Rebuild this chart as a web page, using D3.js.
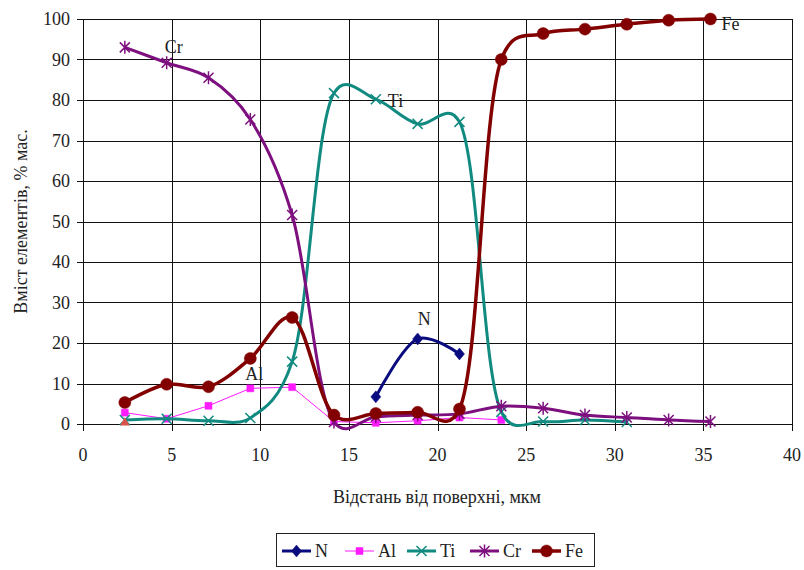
<!DOCTYPE html>
<html>
<head>
<meta charset="utf-8">
<script src="https://cdn.jsdelivr.net/npm/d3@7"></script>
<style>
  body { margin: 0; background: #fff; }
  text { font-family: "Liberation Serif", "Times New Roman", serif; fill: #222; }
</style>
</head>
<body>
<svg width="804" height="570" font-family="Liberation Serif, serif"></svg>
<script>
var svg = d3.select('svg');

// distance from surface, um (same for every series)
var depth = [2.36, 4.72, 7.08, 9.44, 11.8, 14.16, 16.52, 18.88, 21.24, 23.6, 25.96, 28.32, 30.68, 33.04, 35.4];

// content, mass % (null = no point)
var n_vals  = [null, null, null, null, null, null, 6.7, 21.0, 17.3, null, null, null, null, null, null];
var al_vals = [2.8, 1.3, 4.5, 8.8, 9.1, 0.6, 0.3, 0.8, 1.6, 1.0, null, null, null, null, null];
var ti_vals = [1.0, 1.3, 0.8, 1.5, 15.4, 81.7, 80.2, 74.1, 74.6, 3.0, 0.6, 1.0, 0.5, null, null];
var cr_vals = [93.0, 89.2, 85.5, 75.2, 51.6, 0.5, 1.8, 2.2, 2.5, 4.4, 3.9, 2.2, 1.6, 1.0, 0.6];
var fe_vals = [5.3, 9.8, 9.2, 16.2, 26.3, 2.2, 2.6, 2.9, 3.7, 90.0, 96.4, 97.5, 98.7, 99.7, 100];

// stray triangle marker in the original
var extra_x = [2.36];
var extra_y = [0.3];

var x_ticks = [0, 5, 10, 15, 20, 25, 30, 35, 40];
var y_ticks = [0, 10, 20, 30, 40, 50, 60, 70, 80, 90, 100];

var series = [
  { name: 'N',  vals: n_vals,  color: '#0b0b80', width: 3,   marker: 'diamond', smooth: true },
  { name: 'Al', vals: al_vals, color: '#ff1aff', width: 1,   marker: 'square',  smooth: false },
  { name: 'Ti', vals: ti_vals, color: '#118a80', width: 3,   marker: 'cross',   smooth: true },
  { name: 'Cr', vals: cr_vals, color: '#7d0f7f', width: 3,   marker: 'star',    smooth: true },
  { name: 'Fe', vals: fe_vals, color: '#820000', width: 3.5, marker: 'circle',  smooth: true }
];

// series name labels: which point they sit by, and offset in px
var labels = [
  { name: 'Cr', idx: 1,  dx: -2, dy: -10 },
  { name: 'Ti', idx: 6,  dx: 12, dy: 8 },
  { name: 'N',  idx: 7,  dx: 0,  dy: -14 },
  { name: 'Al', idx: 3,  dx: -5, dy: -8 },
  { name: 'Fe', idx: 14, dx: 11, dy: 11 }
];

var x = d3.scaleLinear().domain([0, 40]).range([83, 792]);
var y = d3.scaleLinear().domain([0, 100]).range([424, 19]);

// grid
var grid = svg.append('g');
grid.selectAll('.hgrid')
  .data(y_ticks)
  .enter()
  .append('line')
  .attr('x1', 77)
  .attr('x2', x(40))
  .attr('y1', function(d) { return Math.round(y(d)) + 0.5 })
  .attr('y2', function(d) { return Math.round(y(d)) + 0.5 })
  .attr('stroke', '#111')
  .attr('stroke-width', 1)

grid.selectAll('.vgrid')
  .data(x_ticks)
  .enter()
  .append('line')
  .attr('x1', function(d) { return Math.round(x(d)) + 0.5 })
  .attr('x2', function(d) { return Math.round(x(d)) + 0.5 })
  .attr('y1', y(100))
  .attr('y2', 431)
  .attr('stroke', '#111')
  .attr('stroke-width', 1)

// tick labels
svg.selectAll('.ylab')
  .data(y_ticks)
  .enter()
  .append('text')
  .attr('x', 70)
  .attr('y', function(d) { return y(d) + 6 })
  .attr('text-anchor', 'end')
  .attr('font-size', '18px')
  .text(function(d) { return d })

svg.selectAll('.xlab')
  .data(x_ticks)
  .enter()
  .append('text')
  .attr('x', function(d) { return x(d) })
  .attr('y', 461)
  .attr('text-anchor', 'middle')
  .attr('font-size', '18px')
  .text(function(d) { return d })

// axis titles
svg.append('text')
  .attr('transform', 'translate(27,' + y(50) + ') rotate(-90)')
  .attr('text-anchor', 'middle')
  .attr('font-size', '18px')
  .text('Вміст елементів, % мас.')

svg.append('text')
  .attr('x', 437)
  .attr('y', 503)
  .attr('text-anchor', 'middle')
  .attr('font-size', '18px')
  .text('Відстань від поверхні, мкм')

// marker path generator
function markerPath(type) {
  if (type == 'diamond') return 'M0,-6L5,0L0,6L-5,0Z';
  if (type == 'square') return 'M-3.5,-3.5H3.5V3.5H-3.5Z';
  if (type == 'cross') return 'M-5,-5L5,5M-5,5L5,-5';
  if (type == 'star') return 'M-5,-5L5,5M-5,5L5,-5M0,-6.5V6.5';
  return d3.symbol().type(d3.symbolCircle).size(Math.PI * 36)();
}

function drawMarker(g, s) {
  var p = g.append('path').attr('d', markerPath(s.marker));
  if (s.marker == 'cross' || s.marker == 'star') {
    p.attr('fill', 'none').attr('stroke', s.color).attr('stroke-width', 1.5);
  } else {
    p.attr('fill', s.color).attr('stroke', s.color).attr('stroke-width', 0.5);
  }
}

// lines + markers
series.forEach(function(s) {
  var pts = [];
  s.vals.forEach(function(v, i) {
    if (v != null) pts.push([depth[i], v]);
  });

  var line = d3.line()
    .x(function(d) { return x(d[0]) })
    .y(function(d) { return y(d[1]) })
    .curve(s.smooth ? d3.curveCatmullRom.alpha(0.25) : d3.curveLinear);

  svg.append('path')
    .datum(pts)
    .attr('d', line)
    .attr('fill', 'none')
    .attr('stroke', s.color)
    .attr('stroke-width', s.width)
    .attr('stroke-linejoin', 'round')

  svg.selectAll('.m-' + s.name)
    .data(pts)
    .enter()
    .append('g')
    .attr('transform', function(d) { return 'translate(' + x(d[0]) + ',' + y(d[1]) + ')' })
    .each(function() { drawMarker(d3.select(this), s) })
});

svg.selectAll('.extra')
  .data(extra_x)
  .enter()
  .append('path')
  .attr('d', d3.symbol().type(d3.symbolTriangle).size(40)())
  .attr('transform', function(d, i) { return 'translate(' + x(d) + ',' + y(extra_y[i]) + ')' })
  .attr('fill', '#d9534a')

// series name labels
labels.forEach(function(l) {
  var s = series.filter(function(d) { return d.name == l.name })[0];
  svg.append('text')
    .attr('x', x(depth[l.idx]) + l.dx)
    .attr('y', y(s.vals[l.idx]) + l.dy)
    .attr('font-size', '18px')
    .text(l.name)
});

// legend
var legend = svg.append('g');
legend.append('rect')
  .attr('x', 276.5)
  .attr('y', 533.5)
  .attr('width', 318)
  .attr('height', 33)
  .attr('fill', '#fff')
  .attr('stroke', '#222')
  .attr('stroke-width', 1)

var leg_x = [282, 345, 407, 470, 532];
series.forEach(function(s, i) {
  var g = legend.append('g').attr('transform', 'translate(' + leg_x[i] + ',551)');
  g.append('line')
    .attr('x1', 0)
    .attr('x2', 29)
    .attr('stroke', s.color)
    .attr('stroke-width', s.width)
  var m = g.append('g').attr('transform', 'translate(14.5,0)');
  drawMarker(m, s);
  g.append('text')
    .attr('x', 33)
    .attr('y', 6)
    .attr('font-size', '18px')
    .text(s.name)
});
</script>
</body>
</html>
